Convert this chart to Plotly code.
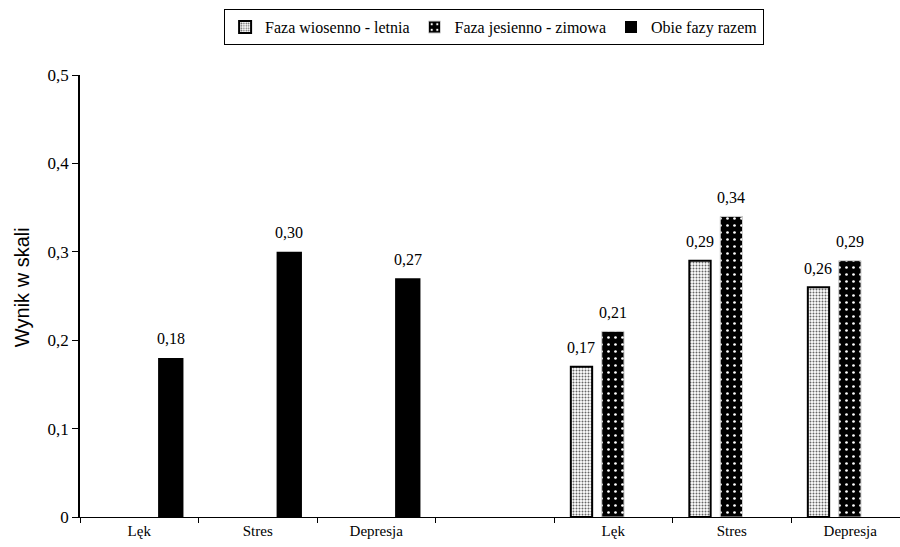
import numpy as np
import plotly.graph_objects as go

# Categories along the x axis (the empty one separates the two groups)
categories = ["Lęk", "Stres", "Depresja", "", "Lęk", "Stres", "Depresja"]

# Series values (None = no bar in that category)
spring_summer = [None, None, None, None, 0.17, 0.29, 0.26]
autumn_winter = [None, None, None, None, 0.21, 0.34, 0.29]
both_phases = [0.18, 0.30, 0.27, None, None, None, None]

series_names = ["Faza wiosenno - letnia", "Faza jesienno - zimowa", "Obie fazy razem"]

y_ticks = [0, 0.1, 0.2, 0.3, 0.4, 0.5]

x = np.arange(len(categories)) + 0.5

SERIF = "'Liberation Serif', 'Times New Roman', Times, serif"
SANS = "'Liberation Sans', Arial, sans-serif"

# slot centre and drawn width of each series inside a category (data units)
slot = {
    "spring": (-0.268, 0.180),
    "autumn": (-0.003, 0.188),
    "both": (0.266, 0.214),
}

fig = go.Figure()

fig.add_trace(go.Bar(
    x=x, y=spring_summer, name=series_names[0],
    width=slot["spring"][1], offset=slot["spring"][0] - slot["spring"][1] / 2,
    marker=dict(
        color="white",
        line=dict(color="black", width=2),
        pattern=dict(shape=".", fgcolor="#666666", bgcolor="white",
                     size=3, solidity=0.35, fillmode="replace"),
    ),
))
fig.add_trace(go.Bar(
    x=x, y=autumn_winter, name=series_names[1],
    width=slot["autumn"][1], offset=slot["autumn"][0] - slot["autumn"][1] / 2,
    marker=dict(
        color="black",
        line=dict(color="#cfcfcf", width=1),
        pattern=dict(shape=".", fgcolor="white", bgcolor="black",
                     size=7, solidity=0.12, fillmode="replace"),
    ),
))
fig.add_trace(go.Bar(
    x=x, y=both_phases, name=series_names[2],
    width=slot["both"][1], offset=slot["both"][0] - slot["both"][1] / 2,
    marker=dict(color="black", line=dict(color="black", width=0)),
))


def fmt(v):
    return f"{v:.2f}".replace(".", ",")


annotations = []
for values, key in ((spring_summer, "spring"), (autumn_winter, "autumn"), (both_phases, "both")):
    for xi, v in zip(x, values):
        if v is None:
            continue
        annotations.append(dict(
            x=xi + slot[key][0], y=v, xref="x", yref="y",
            xanchor="center", yanchor="middle",
            text=fmt(v), showarrow=False, yshift=19,
            font=dict(family=SERIF, size=16, color="black"),
        ))

# y-axis title
annotations.append(dict(
    x=-0.0707, y=0.52, xref="paper", yref="paper",
    xanchor="center", yanchor="middle",
    text="Wynik w skali", textangle=-90, showarrow=False,
    font=dict(family=SANS, size=20, color="black"),
))

label_vals = [xi for xi, c in zip(x, categories) if c]
label_text = [c for c in categories if c]

fig.update_layout(
    width=900, height=547, autosize=False,
    margin=dict(l=80, r=0, t=75, b=30),
    paper_bgcolor="white", plot_bgcolor="white",
    barmode="overlay",
    separators=", ",
    showlegend=True,
    font=dict(family=SERIF, color="black"),
    legend=dict(
        orientation="h", x=0.505, xanchor="center", y=1.149, yanchor="top",
        bordercolor="black", borderwidth=1,
        font=dict(family=SERIF, size=16, color="black"),
        itemwidth=30, traceorder="normal",
    ),
    annotations=annotations,
    xaxis=dict(
        range=[0, 820 / 118.5],
        tickmode="array", tickvals=label_vals, ticktext=label_text,
        ticks="", showgrid=False, zeroline=False,
        showline=True, linecolor="black", linewidth=1,
        tickfont=dict(family=SERIF, size=15, color="black"),
        minor=dict(tickmode="array", tickvals=list(range(0, 7)),
                   ticks="outside", ticklen=5, tickcolor="black", tickwidth=1,
                   showgrid=False),
    ),
    yaxis=dict(
        range=[0, 0.5], tickmode="array", tickvals=y_ticks,
        ticks="outside", ticklen=6, tickcolor="black", tickwidth=1,
        showgrid=False, zeroline=False,
        showline=True, linecolor="black", linewidth=1.5,
        tickfont=dict(family=SERIF, size=17, color="black"),
        tickformat=".1~f",
    ),
)

fig.write_html("out.html")
